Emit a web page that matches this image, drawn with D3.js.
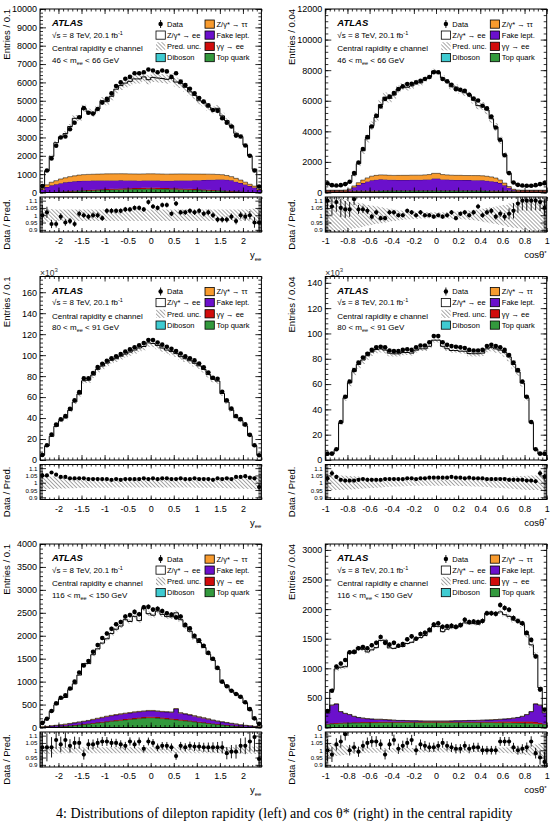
<!DOCTYPE html>
<html>
<head>
<meta charset="utf-8">
<script src="https://cdn.jsdelivr.net/npm/d3@7"></script>
<style>
  body { margin: 0; background: #fff; }
  text { font-family: "Liberation Sans", Arial, Helvetica, sans-serif; }
  text.caption { font-family: "Liberation Serif", "DejaVu Serif", serif; }
</style>
</head>
<body>
<svg id="fig" width="556" height="824"></svg>
<script>
// ---- values ----
// rapidity bins -2.4..2.4 (width 0.1), cos(theta*) bins -1..1 (width 0.04)
const yeeTicks = [-2, -1.5, -1, -0.5, 0, 0.5, 1, 1.5, 2];
const cosTicks = [-1, -0.8, -0.6, -0.4, -0.2, 0, 0.2, 0.4, 0.6, 0.8, 1];
const ratioTicks = [0.9, 0.95, 1, 1.05, 1.1];

const ticks46y = [0, 1000, 2000, 3000, 4000, 5000, 6000, 7000, 8000, 9000, 10000];
const ticks46c = [0, 2000, 4000, 6000, 8000, 10000, 12000];
const ticks80y = [0, 20, 40, 60, 80, 100, 120, 140, 160];
const ticks80c = [0, 20, 40, 60, 80, 100, 120, 140];
const ticks116y = [0, 500, 1000, 1500, 2000, 2500, 3000, 3500, 4000];
const ticks116c = [0, 500, 1000, 1500, 2000, 2500, 3000];

// 46 < mee < 66 GeV, rapidity
const m46yData = [350,1200,1850,2550,3000,3050,3450,3800,4100,4600,4350,4300,4550,4900,5100,5400,5800,6000,6200,6300,6500,6500,6550,6700,
                  6650,6550,6650,6600,6300,6500,6050,5850,5650,5400,5150,4950,4750,4500,4450,4050,3800,3600,3100,3050,2560,2000,1200,330];
const m46yRatio = [1.00,1.02,0.94,0.94,0.99,0.95,0.96,0.94,1.01,1.00,0.99,1.00,1.00,0.98,1.03,1.03,1.03,1.03,1.04,1.04,1.05,1.05,1.04,1.09,
                   1.06,1.05,1.07,1.07,1.01,1.08,1.02,1.02,1.03,1.02,1.03,1.01,1.02,1.00,0.97,0.97,0.97,0.99,0.96,1.00,0.99,1.00,0.95,0.95];
const m46yUnc = [0.045,0.045,0.042,0.04,0.04,0.04,0.04,0.04,0.04,0.04,0.04,0.04,0.04,0.04,0.04,0.04,0.04,0.04,0.04,0.04,0.04,0.04,0.04,0.04,
                 0.04,0.04,0.04,0.04,0.04,0.04,0.04,0.04,0.04,0.04,0.04,0.04,0.04,0.04,0.04,0.04,0.04,0.04,0.04,0.04,0.04,0.042,0.045,0.045];
const m46yTop = [5,12,20,30,40,50,60,70,80,90,100,110,120,130,140,150,160,170,175,180,185,190,195,200,
                 200,195,190,185,180,175,170,160,150,140,130,120,110,100,90,80,70,60,50,40,30,20,12,5];
const m46yGg = [3,6,10,14,18,22,25,28,31,34,37,40,42,44,46,48,50,52,54,55,56,57,58,58,
                58,58,57,56,55,54,52,50,48,46,44,42,40,37,34,31,28,25,22,18,14,10,6,3];
const m46yFake = [150,280,360,400,450,480,500,510,520,520,510,500,490,480,470,460,450,440,430,420,410,400,400,400,
                  400,400,400,400,410,420,430,440,460,480,500,520,540,560,580,600,600,580,520,460,390,320,250,130];
const m46yTau = [60,120,170,200,230,250,280,300,320,330,340,345,350,355,360,360,360,360,360,360,360,360,360,360,
                 360,360,360,360,360,360,360,360,350,340,330,320,310,300,280,260,230,200,180,160,130,100,80,50];

// 46 < mee < 66 GeV, cos(theta*)
const m46cData = [600,480,455,480,550,700,1270,1960,2840,3620,4320,5020,5630,6110,6280,6500,6760,6940,7090,7110,7200,7310,7420,7550,7860,
                  7860,7420,7270,7050,6760,6720,6650,6390,6150,6020,5670,5500,4970,4250,3450,2440,1270,650,500,460,440,440,480,550,610];
const m46cRatio = [1.10,1.06,1.09,1.05,1.04,1.04,1.11,1.04,1.04,1.03,0.99,1.02,0.98,0.98,1.02,1.02,1.00,1.00,1.03,1.02,1.00,1.02,1.00,1.00,0.99,
                   1.00,0.99,1.00,1.02,0.98,1.01,1.02,1.00,1.02,1.06,1.00,1.02,1.03,0.99,1.01,0.99,1.01,1.03,1.08,1.10,1.10,1.10,1.10,1.09,1.05];
const m46cUnc = [0.12,0.12,0.12,0.12,0.11,0.10,0.09,0.085,0.08,0.07,0.065,0.06,0.055,0.05,0.045,0.04,0.035,0.032,0.03,0.028,0.025,0.023,0.022,0.02,0.02,
                 0.02,0.02,0.022,0.023,0.025,0.028,0.03,0.032,0.035,0.04,0.045,0.05,0.055,0.06,0.065,0.07,0.08,0.085,0.09,0.10,0.11,0.12,0.12,0.12,0.12];
const m46cTop = [70,70,70,70,70,72,75,78,80,82,85,88,90,92,94,96,98,100,100,100,100,100,100,100,100,
                 100,100,100,100,100,100,100,98,96,94,92,90,88,85,82,80,78,75,72,70,70,70,70,70,70];
const m46cGg = [40,40,40,40,40,38,36,35,34,33,32,32,32,32,32,32,32,32,32,32,32,32,32,32,32,
                32,32,32,32,32,32,32,32,32,32,32,32,32,33,34,35,36,38,40,40,40,40,40,40,40];
const m46cFake = [20,20,20,20,25,80,230,380,500,600,680,720,740,730,710,700,690,690,690,700,700,700,710,720,780,
                  780,720,710,700,690,690,680,680,680,680,670,650,620,580,500,360,200,60,25,20,20,20,20,20,20];
const m46cTau = [20,20,20,20,25,40,90,150,200,240,270,280,290,290,290,290,300,300,300,300,300,300,310,320,340,
                 340,320,310,300,300,300,300,300,300,300,300,290,280,250,200,140,80,40,25,20,20,20,20,20,20];

// 80 < mee < 91 GeV, rapidity (x10^3)
const m80yData = [4.8,14,24.2,33.8,38.9,41.8,48.8,57,64.7,77.8,78,83,88.6,91.8,94.7,97,99,101,103.5,105.5,107.5,109.5,111.5,114.5,
                  114.5,112,110,108,106,104,101.5,99,97,95,92,88.5,83.5,78.5,77.5,65,57,49,42,39,34,24,14,4.5];
const m80yRatio = [1.05,1.05,1.07,1.055,1.04,1.04,1.03,1.03,1.03,1.03,1.025,1.025,1.025,1.025,1.025,1.02,1.025,1.02,1.025,1.025,1.025,1.025,1.03,1.025,
                   1.03,1.025,1.03,1.03,1.025,1.025,1.03,1.025,1.025,1.03,1.025,1.025,1.025,1.02,1.03,1.025,1.03,1.025,1.04,1.04,1.045,1.035,1.03,0.97];
const m80yUnc = [0.045,0.045,0.043,0.041,0.04,0.039,0.038,0.037,0.036,0.035,0.035,0.034,0.034,0.034,0.034,0.033,0.033,0.033,0.033,0.033,0.033,0.033,0.033,0.033,
                 0.033,0.033,0.033,0.033,0.033,0.033,0.033,0.033,0.033,0.034,0.034,0.034,0.034,0.035,0.035,0.036,0.037,0.038,0.039,0.04,0.041,0.043,0.045,0.045];

// 80 < mee < 91 GeV, cos(theta*) (x10^3)
const m80cData = [5,5,8.5,30,50,62,71,77,81,84,87,89,89.5,89,86.5,86,86,87,87.5,87,89,90.5,90.5,93,98,
                  98,93,91,90,89.5,89,88.5,87,86.5,86.5,87,90,91,90,89,87,83,77,71,62,50,30,8.5,5,5];
const m80cRatio = [1.03,1.065,1.04,1.02,1.015,1.015,1.015,1.02,1.025,1.02,1.02,1.02,1.02,1.025,1.025,1.025,1.025,1.025,1.03,1.03,1.025,1.03,1.03,1.035,1.035,
                   1.035,1.035,1.035,1.04,1.035,1.035,1.03,1.035,1.03,1.03,1.03,1.025,1.025,1.025,1.025,1.025,1.02,1.02,1.02,1.02,1.015,1.015,1.01,1.065,1.04];
const m80cUnc = [0.05,0.05,0.05,0.05,0.048,0.046,0.044,0.042,0.04,0.038,0.036,0.034,0.032,0.03,0.028,0.026,0.025,0.024,0.023,0.022,0.021,0.02,0.02,0.02,0.02,
                 0.02,0.02,0.02,0.02,0.021,0.022,0.023,0.024,0.025,0.026,0.028,0.03,0.032,0.034,0.036,0.038,0.04,0.042,0.044,0.046,0.048,0.05,0.05,0.05,0.05];

// 116 < mee < 150 GeV, rapidity
const m116yData = [100,190,360,530,650,700,850,1000,1200,1350,1450,1650,1800,1950,2050,2150,2250,2300,2420,2450,2520,2470,2620,2630,
                   2570,2590,2540,2490,2460,2400,2420,2240,2160,2000,1900,1780,1630,1500,1300,1000,900,800,730,670,550,400,200,80];
const m116yRatio = [1.02,1.02,1.02,1.07,1.04,1.07,1.03,1.05,1.05,0.97,1.04,1.04,1.05,1.06,1.06,1.05,1.05,1.04,1.03,1.06,1.04,1.06,1.01,1.06,
                    1.05,1.02,1.03,1.03,1.02,0.96,1.03,1.02,1.03,1.025,1.025,1.02,1.02,1.02,1.02,1.02,0.98,0.99,0.99,1.03,1.03,1.06,1.09,0.94];
const m116yUnc = [0.025,0.025,0.024,0.023,0.022,0.021,0.02,0.02,0.02,0.02,0.02,0.02,0.02,0.02,0.02,0.02,0.02,0.02,0.02,0.02,0.02,0.02,0.02,0.02,
                  0.02,0.02,0.02,0.02,0.02,0.02,0.02,0.02,0.02,0.02,0.02,0.02,0.02,0.02,0.02,0.02,0.02,0.02,0.021,0.022,0.023,0.024,0.025,0.025];
const m116yTop = [3,6,10,15,20,27,35,45,55,65,75,88,100,110,122,135,145,155,165,175,185,195,205,215,
                  215,205,195,185,175,165,155,145,135,122,110,100,88,75,65,55,45,35,27,20,15,10,6,3];
const m116yGg = [1,2,3,4,5,6,7,8,9,10,11,12,13,14,15,16,17,18,19,20,21,22,22,22,
                 22,22,22,21,20,19,18,17,16,15,14,13,12,11,10,9,8,7,6,5,4,3,2,1];
const m116yFake = [8,14,20,25,30,35,40,45,50,55,60,70,80,90,100,105,110,115,120,120,125,125,125,125,
                   125,125,125,130,135,220,140,130,120,110,100,90,80,70,60,55,50,45,40,30,25,20,14,8];
const m116yTau = [2,3,4,5,6,6,7,7,8,8,8,9,9,9,10,10,10,10,10,10,10,10,10,10,
                  10,10,10,10,10,10,10,10,10,10,9,9,9,8,8,8,7,7,6,6,5,4,3,2];

// 116 < mee < 150 GeV, cos(theta*)
const m116cData = [280,620,1030,1080,1140,1270,1280,1340,1360,1340,1390,1430,1530,1430,1400,1430,1380,1410,1490,1540,1500,1580,1600,1650,1740,
                   1760,1700,1710,1720,1700,1730,1820,1780,1790,1780,1800,1930,1930,1920,2070,2020,1990,1850,1800,1760,1600,1480,1200,640,300];
const m116cRatio = [1.00,0.97,1.04,1.06,1.11,1.00,1.02,0.99,1.03,1.05,1.06,1.06,1.04,0.97,1.04,1.07,1.01,1.03,1.05,1.07,1.00,1.04,1.03,1.02,1.02,
                    1.03,1.05,1.03,1.02,1.01,1.01,1.03,1.01,1.02,1.02,1.00,1.00,1.00,1.00,1.06,1.06,1.06,1.02,1.00,1.01,1.02,1.06,0.98,0.95,0.92];
const m116cUnc = [0.045,0.045,0.04,0.036,0.032,0.028,0.025,0.022,0.02,0.019,0.018,0.017,0.016,0.016,0.015,0.015,0.015,0.015,0.015,0.015,0.015,0.015,0.015,0.015,0.015,
                  0.015,0.015,0.015,0.015,0.015,0.015,0.015,0.015,0.015,0.015,0.015,0.016,0.016,0.017,0.018,0.019,0.02,0.022,0.025,0.028,0.032,0.036,0.04,0.045,0.05];
const m116cTop = [55,60,65,70,72,74,76,78,80,80,82,82,84,84,85,85,85,85,86,86,86,86,86,86,86,
                  86,86,86,86,86,86,86,85,85,85,85,84,84,82,82,80,80,78,76,74,72,70,65,60,55];
const m116cGg = [8,10,12,12,12,12,12,12,12,12,12,12,12,12,12,12,12,12,12,12,12,12,12,12,12,
                 12,12,12,12,12,12,12,12,12,12,14,14,15,16,18,20,22,24,26,28,30,30,28,20,10];
const m116cFake = [180,307,320,185,153,131,99,77,65,55,48,43,41,36,30,25,20,20,17,14,14,11,9,9,9,
                   9,9,9,11,14,14,17,20,20,22,23,27,28,34,37,42,45,55,65,85,115,167,304,297,182];
const m116cTau = [3,3,3,3,3,3,3,3,3,3,3,3,3,3,3,3,3,3,3,3,3,3,3,3,3,
                  3,3,3,3,3,3,3,3,3,3,3,3,3,3,3,3,3,3,3,3,3,3,3,3,3];

const colors = { top: '#33993d', gg: '#d10c0c', fake: '#6b10cc', tau: '#f89b2e', dib: '#3fcbd1' };
const FONT = '"Liberation Sans", Arial, Helvetica, sans-serif';

const svg = d3.select('#fig');
const defs = svg.append('defs');
defs.append('pattern')
    .attr('id', 'hatch')
    .attr('patternUnits', 'userSpaceOnUse')
    .attr('width', 2.8).attr('height', 2.8)
    .attr('patternTransform', 'rotate(-45)')
  .append('line')
    .attr('x1', 0).attr('y1', 0).attr('x2', 0).attr('y2', 2.8)
    .attr('stroke', '#222').attr('stroke-width', 0.8);

const panels = [
    { x0: 40,    top: 9,     kind: 'y', yMax: 10000, yTicks: ticks46y, yMinor: 200, yTitle: 'Entries / 0.1',
      mass: ['46', '66'], data: m46yData, ratio: m46yRatio, unc: m46yUnc, unit: 1,
      bkg: [m46yTop, m46yGg, m46yFake, m46yTau] },
    { x0: 325.3, top: 9,     kind: 'c', yMax: 12000, yTicks: ticks46c, yMinor: 400, yTitle: 'Entries / 0.04',
      mass: ['46', '66'], data: m46cData, ratio: m46cRatio, unc: m46cUnc, unit: 1,
      bkg: [m46cTop, m46cGg, m46cFake, m46cTau] },
    { x0: 40,    top: 276.5, kind: 'y', yMax: 175, yTicks: ticks80y, yMinor: 4, yTitle: 'Entries / 0.1',
      mass: ['80', '91'], data: m80yData, ratio: m80yRatio, unc: m80yUnc, unit: 1000, bkg: null },
    { x0: 325.3, top: 276.5, kind: 'c', yMax: 145, yTicks: ticks80c, yMinor: 4, yTitle: 'Entries / 0.04',
      mass: ['80', '91'], data: m80cData, ratio: m80cRatio, unc: m80cUnc, unit: 1000, bkg: null },
    { x0: 40,    top: 544,   kind: 'y', yMax: 4000, yTicks: ticks116y, yMinor: 100, yTitle: 'Entries / 0.1',
      mass: ['116', '150'], data: m116yData, ratio: m116yRatio, unc: m116yUnc, unit: 1,
      bkg: [m116yTop, m116yGg, m116yFake, m116yTau] },
    { x0: 325.3, top: 544,   kind: 'c', yMax: 3100, yTicks: ticks116c, yMinor: 100, yTitle: 'Entries / 0.04',
      mass: ['116', '150'], data: m116cData, ratio: m116cRatio, unc: m116cUnc, unit: 1,
      bkg: [m116cTop, m116cGg, m116cFake, m116cTau] }
];

function addAxis(g, axis, transform, size) {
    const a = g.append('g').attr('transform', transform).call(axis);
    a.select('.domain').remove();
    a.attr('font-family', FONT).attr('font-size', size || 9);
    a.selectAll('.tick line').attr('stroke', '#000').attr('stroke-width', 0.8);
    a.selectAll('.tick text').attr('fill', '#000');
    return a;
}

function drawPanel(p, idx) {
    const g = svg.append('g');
    const x0 = p.x0, x1 = x0 + 221.4;
    const mt = p.top, mb = mt + 183.5, rt = mt + 188, rb = mt + 223;
    const isY = p.kind === 'y';
    const lo = isY ? -2.4 : -1, hi = isY ? 2.4 : 1, w = isY ? 0.1 : 0.04;

    const x = d3.scaleLinear().domain([lo, hi]).range([x0, x1]);
    const y = d3.scaleLinear().domain([0, p.yMax]).range([mb, mt]);
    const r = d3.scaleLinear().domain([0.885, 1.125]).range([rb, rt]);

    const pred = p.data.map((d, i) => d / p.ratio[i]);
    const zeros = pred.map(() => 0);
    const steps = (v0, v1) => v1.flatMap((v, i) => [
        { x: lo + i * w, a: v0[i], b: v },
        { x: lo + (i + 1) * w, a: v0[i], b: v }
    ]);

    defs.append('clipPath').attr('id', 'cm' + idx)
        .append('rect').attr('x', x0).attr('y', mt).attr('width', x1 - x0).attr('height', mb - mt);
    defs.append('clipPath').attr('id', 'cr' + idx)
        .append('rect').attr('x', x0).attr('y', rt).attr('width', x1 - x0).attr('height', rb - rt);

    const main = g.append('g').attr('clip-path', `url(#cm${idx})`);
    const areaM = d3.area().x(d => x(d.x)).y0(d => y(d.a)).y1(d => y(d.b));
    const topM = d3.line().x(d => x(d.x)).y(d => y(d.b));

    // Z/gamma* -> ee on top of the backgrounds
    main.append('path').datum(steps(zeros, pred)).attr('d', areaM).attr('fill', '#fff');

    if (p.bkg) {
        const rows = pred.map((_, i) => ({ top: p.bkg[0][i], gg: p.bkg[1][i], fake: p.bkg[2][i], tau: p.bkg[3][i] }));
        const layers = d3.stack().keys(['top', 'gg', 'fake', 'tau'])(rows);
        layers.forEach(L => {
            const pts = steps(L.map(d => d[0]), L.map(d => d[1]));
            main.append('path').datum(pts).attr('d', areaM).attr('fill', colors[L.key]);
            main.append('path').datum(pts).attr('d', topM)
                .attr('fill', 'none').attr('stroke', '#000').attr('stroke-width', 0.5);
        });
    }

    // prediction uncertainty band
    main.append('path')
        .datum(steps(pred.map((v, i) => v * (1 - p.unc[i])), pred.map((v, i) => v * (1 + p.unc[i]))))
        .attr('d', areaM).attr('fill', 'url(#hatch)');

    const outline = [{ x: lo, b: 0 }].concat(steps(zeros, pred), [{ x: hi, b: 0 }]);
    main.append('path').datum(outline).attr('d', topM)
        .attr('fill', 'none').attr('stroke', '#000').attr('stroke-width', 1);

    // data points
    const cx = i => x(lo + (i + 0.5) * w);
    const pts = main.selectAll('g.pt').data(p.data).join('g');
    pts.append('line')
        .attr('x1', (d, i) => cx(i)).attr('x2', (d, i) => cx(i))
        .attr('y1', d => y(d + Math.sqrt(d * p.unit) / p.unit))
        .attr('y2', d => y(d - Math.sqrt(d * p.unit) / p.unit))
        .attr('stroke', '#000').attr('stroke-width', 0.9);
    pts.append('circle').attr('cx', (d, i) => cx(i)).attr('cy', d => y(d)).attr('r', 2.3).attr('fill', '#000');

    // ratio panel
    const rat = g.append('g').attr('clip-path', `url(#cr${idx})`);
    const areaR = d3.area().x(d => x(d.x)).y0(d => r(d.a)).y1(d => r(d.b));
    rat.append('path')
        .datum(steps(p.unc.map(u => 1 - u), p.unc.map(u => 1 + u)))
        .attr('d', areaR).attr('fill', 'url(#hatch)');
    const rp = rat.selectAll('g.rp').data(p.ratio).join('g');
    const rerr = i => 1.3 * Math.sqrt(p.data[i] * p.unit) / (pred[i] * p.unit);
    rp.append('line')
        .attr('x1', (d, i) => cx(i)).attr('x2', (d, i) => cx(i))
        .attr('y1', (d, i) => r(d + rerr(i))).attr('y2', (d, i) => r(d - rerr(i)))
        .attr('stroke', '#000').attr('stroke-width', 0.9);
    rp.append('circle').attr('cx', (d, i) => cx(i)).attr('cy', d => r(d)).attr('r', 2.1).attr('fill', '#000');

    // frames
    g.append('rect').attr('x', x0).attr('y', mt).attr('width', x1 - x0).attr('height', mb - mt)
        .attr('fill', 'none').attr('stroke', '#000').attr('stroke-width', 1);
    g.append('rect').attr('x', x0).attr('y', rt).attr('width', x1 - x0).attr('height', rb - rt)
        .attr('fill', 'none').attr('stroke', '#000').attr('stroke-width', 1);

    // axes, ticks inside on all sides
    const xMaj = isY ? yeeTicks : cosTicks;
    const xMin = d3.range(lo, hi + 1e-9, w);
    const yMin = d3.range(0, p.yMax + 1e-9, p.yMinor);
    const rMin = d3.range(0.89, 1.125, 0.01);

    addAxis(g, d3.axisLeft(y).tickValues(p.yTicks).tickSize(-6).tickPadding(3).tickFormat(d => String(d)), 'translate(' + x0 + ',0)');
    addAxis(g, d3.axisLeft(y).tickValues(yMin).tickSize(-3).tickFormat(''), 'translate(' + x0 + ',0)');
    addAxis(g, d3.axisRight(y).tickValues(p.yTicks).tickSize(-6).tickFormat(''), 'translate(' + x1 + ',0)');
    addAxis(g, d3.axisRight(y).tickValues(yMin).tickSize(-3).tickFormat(''), 'translate(' + x1 + ',0)');
    addAxis(g, d3.axisBottom(x).tickValues(xMaj).tickSize(-5).tickFormat(''), 'translate(0,' + mb + ')');
    addAxis(g, d3.axisBottom(x).tickValues(xMin).tickSize(-2.5).tickFormat(''), 'translate(0,' + mb + ')');
    addAxis(g, d3.axisTop(x).tickValues(xMaj).tickSize(-5).tickFormat(''), 'translate(0,' + mt + ')');
    addAxis(g, d3.axisTop(x).tickValues(xMin).tickSize(-2.5).tickFormat(''), 'translate(0,' + mt + ')');

    addAxis(g, d3.axisLeft(r).tickValues(ratioTicks).tickSize(-6).tickPadding(2.5).tickFormat(d => String(d)), 'translate(' + x0 + ',0)', 6.2);
    addAxis(g, d3.axisLeft(r).tickValues(rMin).tickSize(-3).tickFormat(''), 'translate(' + x0 + ',0)');
    addAxis(g, d3.axisRight(r).tickValues(ratioTicks).tickSize(-6).tickFormat(''), 'translate(' + x1 + ',0)');
    addAxis(g, d3.axisRight(r).tickValues(rMin).tickSize(-3).tickFormat(''), 'translate(' + x1 + ',0)');
    addAxis(g, d3.axisBottom(x).tickValues(xMaj).tickSize(-4).tickPadding(6).tickFormat(d => String(d)), 'translate(0,' + rb + ')');
    addAxis(g, d3.axisBottom(x).tickValues(xMin).tickSize(-2).tickFormat(''), 'translate(0,' + rb + ')');
    addAxis(g, d3.axisTop(x).tickValues(xMaj).tickSize(-4).tickFormat(''), 'translate(0,' + rt + ')');
    addAxis(g, d3.axisTop(x).tickValues(xMin).tickSize(-2).tickFormat(''), 'translate(0,' + rt + ')');

    // axis titles
    g.append('text').attr('transform', `translate(${x0 - 30},${mt}) rotate(-90)`)
        .attr('text-anchor', 'end').attr('font-size', 9.5).text(p.yTitle);
    g.append('text').attr('transform', `translate(${x0 - 30},${rt + 2}) rotate(-90)`)
        .attr('text-anchor', 'end').attr('font-size', 9.5).text('Data / Pred.');
    const xt = g.append('text').attr('x', x1).attr('y', rb + 26).attr('text-anchor', 'end').attr('font-size', 9.5);
    if (isY) {
        xt.append('tspan').text('y');
        xt.append('tspan').attr('font-size', 6).attr('dy', 2.5).text('ee');
    } else {
        xt.append('tspan').text('cosθ');
        xt.append('tspan').attr('font-size', 6).attr('dy', -3.5).text('*');
    }
    if (p.unit === 1000) {
        const sc = g.append('text').attr('x', x0).attr('y', mt - 1).attr('font-size', 8.5).attr('fill', '#333');
        sc.append('tspan').text('×10');
        sc.append('tspan').attr('font-size', 6).attr('dy', -3.5).text('3');
    }

    // labels
    const tx = x0 + 12;
    g.append('text').attr('x', tx).attr('y', mt + 17).attr('font-size', 9.5)
        .attr('font-weight', 'bold').attr('font-style', 'italic').text('ATLAS');
    const s1 = g.append('text').attr('x', tx).attr('y', mt + 28.5).attr('font-size', 8);
    s1.append('tspan').text('√s = 8 TeV, 20.1 fb');
    s1.append('tspan').attr('font-size', 5.5).attr('dy', -3).text('-1');
    g.append('text').attr('x', tx).attr('y', mt + 42).attr('font-size', 8).text('Central rapidity e channel');
    const s3 = g.append('text').attr('x', tx).attr('y', mt + 53.5).attr('font-size', 8);
    s3.append('tspan').text(p.mass[0] + ' < m');
    s3.append('tspan').attr('font-size', 5.5).attr('dy', 2).text('ee');
    s3.append('tspan').attr('dy', -2).text(' < ' + p.mass[1] + ' GeV');

    // legend
    const rowsY = [mt + 15, mt + 26, mt + 37.2, mt + 48.5];
    const c1 = x0 + 116, c2 = x0 + 165;
    const lg = g.append('g').attr('font-size', 7.5);
    lg.append('line').attr('x1', c1 + 4.6).attr('x2', c1 + 4.6).attr('y1', rowsY[0] - 4).attr('y2', rowsY[0] + 4)
        .attr('stroke', '#000').attr('stroke-width', 0.9);
    lg.append('circle').attr('cx', c1 + 4.6).attr('cy', rowsY[0]).attr('r', 2.2).attr('fill', '#000');
    lg.append('rect').attr('x', c1).attr('y', rowsY[1] - 4).attr('width', 9.3).attr('height', 8.2)
        .attr('fill', '#fff').attr('stroke', '#000').attr('stroke-width', 0.8);
    lg.append('rect').attr('x', c1).attr('y', rowsY[2] - 4).attr('width', 9.3).attr('height', 8.2)
        .attr('fill', 'url(#hatch)');
    lg.append('rect').attr('x', c1).attr('y', rowsY[3] - 4).attr('width', 9.3).attr('height', 8.2)
        .attr('fill', colors.dib).attr('stroke', '#000').attr('stroke-width', 0.8);
    ['tau', 'fake', 'gg', 'top'].forEach((k, j) => {
        lg.append('rect').attr('x', c2).attr('y', rowsY[j] - 4).attr('width', 9.3).attr('height', 8.2)
            .attr('fill', colors[k]).attr('stroke', '#000').attr('stroke-width', 0.8);
    });
    const leg1 = ['Data', 'Z/γ* → ee', 'Pred. unc.', 'Diboson'];
    const leg2 = ['Z/γ* → ττ', 'Fake lept.', 'γγ → ee', 'Top quark'];
    leg1.forEach((t, j) => lg.append('text').attr('x', c1 + 11).attr('y', rowsY[j] + 2.8).text(t));
    leg2.forEach((t, j) => lg.append('text').attr('x', c2 + 11.5).attr('y', rowsY[j] + 2.8).text(t));
}

panels.forEach((p, i) => drawPanel(p, i));

svg.append('text')
    .attr('class', 'caption')
    .attr('x', 56).attr('y', 818)
    .attr('font-size', 14)
    .text('4: Distributions of dilepton rapidity (left) and cos θ* (right) in the central rapidity');
</script>
</body>
</html>
